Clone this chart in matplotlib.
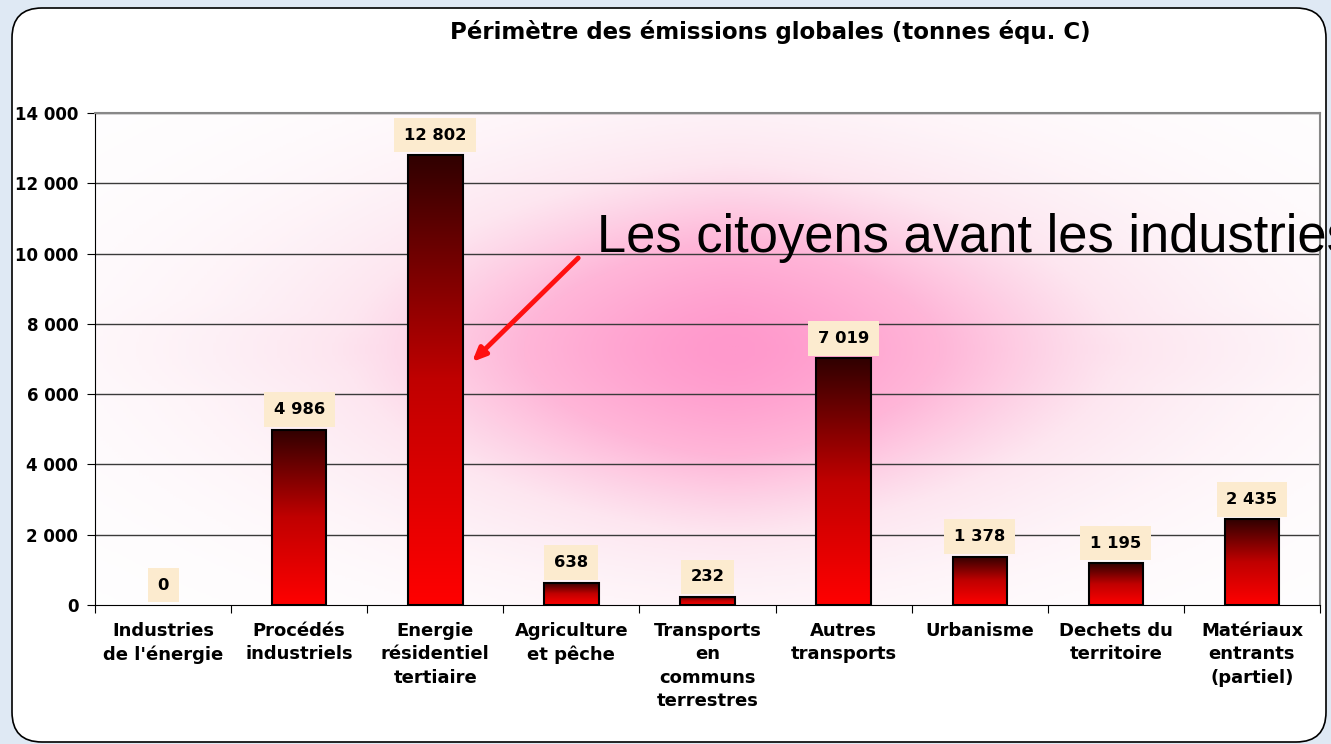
import numpy as np
import matplotlib
matplotlib.use('Agg')
import matplotlib.pyplot as plt
from matplotlib.patches import FancyBboxPatch
from matplotlib.colors import LinearSegmentedColormap

categories = ["Industries\nde l'énergie", "Procédés\nindustriels", "Energie\nrésidentiel\ntertiaire",
              "Agriculture\net pêche", "Transports\nen\ncommuns\nterrestres", "Autres\ntransports",
              "Urbanisme", "Dechets du\nterritoire", "Matériaux\nentrants\n(partiel)"]
values = [0, 4986, 12802, 638, 232, 7019, 1378, 1195, 2435]
yticks = [0, 2000, 4000, 6000, 8000, 10000, 12000, 14000]

title = "Périmètre des émissions globales (tonnes équ. C)"
note = "Les citoyens avant les industries"


def fmt(v):
    return "{:,}".format(v).replace(",", " ")


fig = plt.figure(figsize=(13.31, 7.44), dpi=100)
fig.patch.set_facecolor('#dfe9f4')

# white rounded card (coordinates in inches = px/100)
card = FancyBboxPatch((0.12, 0.02), 13.14, 7.34,
                      boxstyle="round,pad=0,rounding_size=0.3",
                      transform=fig.dpi_scale_trans, facecolor='white',
                      edgecolor='black', linewidth=1.2, zorder=-5)
fig.patches.append(card)

# cut-off slide title at the very top
fig.text(0.003, 1.035, "ce jour", fontsize=40, fontweight='bold', va='baseline', ha='left')

ax = fig.add_axes([95 / 1331, 1 - 605 / 744, 1225 / 1331, 492 / 744])
ax.set_facecolor('none')
ax.set_zorder(2)

n = len(values)
x = np.arange(n)
ax.set_xlim(-0.5, n - 0.5)
ax.set_ylim(0, 14000)

# pink glow behind the bars
gx, gy = np.meshgrid(np.linspace(0, 1, 400), np.linspace(0, 1, 300))
dx, dy = gx - 0.52, gy - 0.52
glow = np.maximum(np.exp(-(np.abs(dx) / 0.30) ** 1.6 - (np.abs(dy) / 0.36) ** 1.8),
                  0.7 * np.exp(-(np.abs(dx) / 0.38) ** 2 - (np.abs(dy) / 0.20) ** 2))
pink = LinearSegmentedColormap.from_list('pk', ['#ffffff', '#fde6f0', '#ffb6d8', '#ff99cc'])
ax.imshow(glow, cmap=pink, extent=(-0.5, n - 0.5, 0, 14000), origin='lower',
          aspect='auto', zorder=0, vmin=0, vmax=1, interpolation='bilinear')

for t in yticks[1:]:
    ax.axhline(t, color='#3a3a3a', linewidth=1.0, zorder=1)

bars = ax.bar(x, values, width=0.4, facecolor='none', edgecolor='black', linewidth=1.5, zorder=3)
grad = LinearSegmentedColormap.from_list('rd', ['#ff0000', '#c00000', '#300000'])
for b, v in zip(bars, values):
    if v <= 0:
        b.set_linewidth(0)
        continue
    x0 = b.get_x()
    im = ax.imshow(np.linspace(0, 1, 256).reshape(-1, 1), cmap=grad, origin='lower',
                   extent=(x0, x0 + b.get_width(), 0, v), aspect='auto', zorder=2)
    im.set_clip_path(b)

for xi, v in zip(x, values):
    ax.annotate(fmt(v), xy=(xi, v), xytext=(0, 9), textcoords='offset points',
                ha='center', va='bottom', fontsize=11.8, fontweight='bold', zorder=4,
                bbox=dict(boxstyle='square,pad=0.6', facecolor='#fcebcf', edgecolor='none'))

ax.set_xticks(np.arange(n + 1) - 0.5, minor=False)
ax.set_xticklabels([])
ax.set_xticks(x, minor=True)
ax.set_xticklabels(categories, minor=True, fontsize=13, fontweight='bold', linespacing=1.4)
ax.tick_params(axis='x', which='minor', length=0, pad=12)
ax.tick_params(axis='x', which='major', length=6, direction='out', color='black')

ax.set_yticks(yticks)
ax.set_yticklabels([fmt(t) for t in yticks], fontsize=12, fontweight='bold')
ax.tick_params(axis='y', length=6, direction='out', pad=6)

for s in ['top', 'right']:
    ax.spines[s].set_color('#888888')
    ax.spines[s].set_linewidth(1.5)
ax.spines['left'].set_color('black')
ax.spines['bottom'].set_color('black')

fig.text(770 / 1331, 1 - 32 / 744, title, ha='center', va='center', fontsize=16.5, fontweight='bold')

ax.text(3.19, 10045, note, fontsize=37.8, family='Liberation Sans', zorder=5, clip_on=False)
ax.annotate('', xy=(2.27, 6915), xytext=(3.05, 9874),
            arrowprops=dict(arrowstyle='-|>,head_length=0.8,head_width=0.35', color='#ff1010',
                            lw=3.5, shrinkA=0, shrinkB=0),
            zorder=5)

fig.savefig('out.png', dpi=100, facecolor=fig.get_facecolor())
